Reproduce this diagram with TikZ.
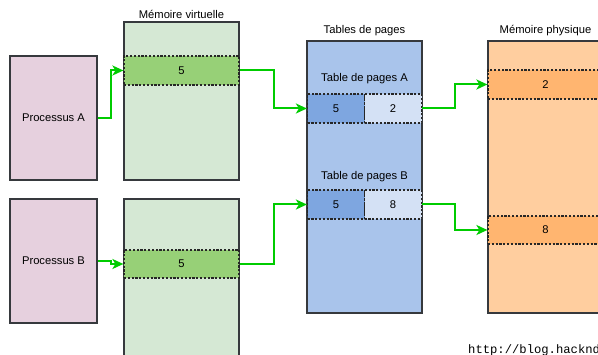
\documentclass[tikz,border=0pt]{standalone}
\usepackage{fontspec}
\setmainfont{Liberation Sans}
\setmonofont{Liberation Mono}
\usepackage{tikz}
\usetikzlibrary{arrows.meta}
\definecolor{pmpink}{HTML}{E6D0DE}
\definecolor{pmgreen}{HTML}{D5E8D4}
\definecolor{pmleaf}{HTML}{97D077}
\definecolor{pmblue}{HTML}{A9C4EB}
\definecolor{pmdeep}{HTML}{7EA6E0}
\definecolor{pmpale}{HTML}{D4E1F5}
\definecolor{pmpeach}{HTML}{FFCE9F}
\definecolor{pmorange}{HTML}{FFB570}
\definecolor{pmlink}{HTML}{00CC00}
\definecolor{pmedge}{HTML}{36393D}

\begin{document}
\begin{tikzpicture}[x=1pt, y=-1pt,
  font=\fontsize{11.2}{13}\selectfont,
  block/.style={draw=pmedge, line width=1.3pt, inner sep=0pt},
  slot/.style={draw=black!85, line width=1.2pt, dash pattern=on 2.2pt off 1.6pt, inner sep=0pt, minimum width=115pt},
  cell/.style={slot, minimum width=57pt, minimum height=29pt},
  caption/.style={inner sep=1pt},
  link/.style={draw=pmlink, line width=2pt, -{Stealth[length=11pt, width=10pt, inset=3pt]}}]
  \useasboundingbox (0,0) rectangle (598,355);
  \clip (0,0) rectangle (598,355);

  \node[block, fill=pmpink, minimum width=87pt, minimum height=124pt] (procA) at (53.5,118) {Processus A};
  \node[block, fill=pmpink, minimum width=87pt, minimum height=124pt] (procB) at (53.5,261) {Processus B};

  \node[block, fill=pmgreen, minimum width=115pt, minimum height=158pt] (vmemA) at (181.5,101) {};
  \node[block, fill=pmgreen, minimum width=115pt, minimum height=170pt] (vmemB) at (181.5,284) {};
  \node[caption] (vmemT) at (181.5,14) {Mémoire virtuelle};
  \node[slot, fill=pmleaf, minimum height=29pt] (pageA) at (181.5,70.5) {5};
  \node[slot, fill=pmleaf, minimum height=28pt] (pageB) at (181.5,264) {5};

  \node[block, fill=pmblue, minimum width=115pt, minimum height=272pt] (ptab) at (364.5,177) {};
  \node[caption] (ptabT) at (364.5,31) {Tables de pages};
  \node[caption] (tabA) at (364.5,79) {Table de pages A};
  \node[caption] (tabB) at (364.5,177) {Table de pages B};
  \node[cell, fill=pmdeep] (virtA) at (336,108.5) {5};
  \node[cell, fill=pmpale] (physA) at (393,108.5) {2};
  \node[cell, fill=pmdeep] (virtB) at (336,204.5) {5};
  \node[cell, fill=pmpale] (physB) at (393,204.5) {8};

  \node[block, fill=pmpeach, minimum width=115pt, minimum height=272pt] (pmem) at (545.5,177) {};
  \node[caption] (pmemT) at (545.5,31) {Mémoire physique};
  \node[slot, fill=pmorange, minimum height=29pt] (frame2) at (545.5,84.5) {2};
  \node[slot, fill=pmorange, minimum height=28pt] (frame8) at (545.5,230) {8};

  \node[anchor=base west, inner sep=0pt, font=\ttfamily\fontsize{12.2}{14}\selectfont] (url) at (468,354) {http://blog.hackndo.com};

  \draw[link] (procA.east) -- ++(13,0) |- (pageA.west);
  \draw[link] (procB.east) -- ++(13,0) |- (pageB.west);
  \draw[link] (pageA.east) -- ++(34,0) |- (virtA.west);
  \draw[link] (pageB.east) -- ++(34,0) |- (virtB.west);
  \draw[link] (physA.east) -- ++(33,0) |- (frame2.west);
  \draw[link] (physB.east) -- ++(33,0) |- (frame8.west);
\end{tikzpicture}
\end{document}
